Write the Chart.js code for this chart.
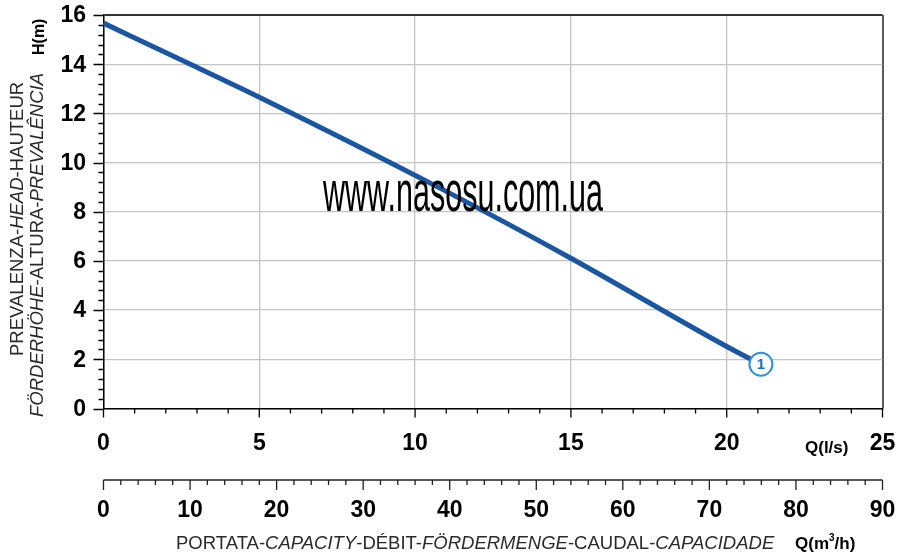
<!DOCTYPE html>
<html><head><meta charset="utf-8">
<script src="https://cdn.jsdelivr.net/npm/chart.js@4/dist/chart.umd.min.js"></script>
<style>html,body{margin:0;padding:0;background:#fff}#wrap{width:897px;height:556px}</style>
</head><body><div id="wrap"><canvas id="c" width="897" height="556"></canvas></div>
<script>
// ---- data ----
const flowLs = [0, 2.45, 5, 10.8, 15, 20, 21.05];          // Q (l/s)
const headM  = [15.67, 14.2, 12.66, 8.96, 6.11, 2.52, 1.82]; // H (m)
const yTicks  = [0, 2, 4, 6, 8, 10, 12, 14, 16];
const xTicks  = [0, 5, 10, 15, 20, 25];
const x2Ticks = [0, 10, 20, 30, 40, 50, 60, 70, 80, 90];   // Q (m3/h)
const curveLabel = '1';
const watermark = 'www.nasosu.com.ua';
const yTitle1 = [['PREVALENZA-', false], ['HEAD', true], ['-HAUTEUR', false]];
const yTitle2 = [['FÖRDERHÖHE', true], ['-ALTURA-', false], ['PREVALÊNCIA', true]];
const xTitle  = [['PORTATA-', false], ['CAPACITY', true], ['-DÉBIT-', false], ['FÖRDERMENGE', true], ['-CAUDAL-', false], ['CAPACIDADE', true]];

const FONT = '"Liberation Sans", Arial, sans-serif';

function drawMixed(ctx, segs, x, y, size, color) {
  let cx = x;
  ctx.fillStyle = color;
  ctx.textAlign = 'left';
  ctx.textBaseline = 'alphabetic';
  for (const [t, it] of segs) {
    ctx.font = (it ? 'italic ' : '') + size + 'px ' + FONT;
    ctx.fillText(t, cx, y);
    cx += ctx.measureText(t).width;
  }
}

const deco = {
  id: 'deco',
  afterDatasetsDraw(chart) {
    const ctx = chart.ctx;
    const xs = chart.scales.x, ys = chart.scales.y;
    const y0 = ys.getPixelForValue(0);
    const xL = xs.getPixelForValue(0);
    const xR = xs.getPixelForValue(25);
    ctx.save();

    // watermark
    ctx.font = '57px "Liberation Sans Narrow", ' + FONT;
    const w = ctx.measureText(watermark).width;
    ctx.save();
    ctx.translate(323, 211);
    ctx.scale(280 / w, 1);
    ctx.fillStyle = '#000';
    ctx.textAlign = 'left';
    ctx.textBaseline = 'alphabetic';
    ctx.fillText(watermark, 0, 0);
    ctx.restore();

    // curve label circle
    const n = flowLs.length - 1;
    const cxp = xs.getPixelForValue(flowLs[n]) + 1.5;
    const cyp = ys.getPixelForValue(headM[n]) + 0.5;
    ctx.beginPath();
    ctx.arc(cxp, cyp, 11.5, 0, Math.PI * 2);
    ctx.fillStyle = '#fff';
    ctx.fill();
    ctx.lineWidth = 2;
    ctx.strokeStyle = '#2a93dc';
    ctx.stroke();
    ctx.fillStyle = '#1f6fb8';
    ctx.font = 'bold 15px ' + FONT;
    ctx.textAlign = 'center';
    ctx.textBaseline = 'middle';
    ctx.fillText(curveLabel, cxp, cyp + 1);

    // ticks
    ctx.strokeStyle = '#000';
    ctx.lineWidth = 1.3;
    ctx.beginPath();
    for (let k = 0; k <= 40; k++) {
      const p = Math.round(ys.getPixelForValue(k * 0.4)) + 0.5;
      ctx.moveTo(xL - (k % 5 === 0 ? 10 : 5), p); ctx.lineTo(xL, p);
    }
    for (let q = 0; q <= 25; q++) {
      const p = xs.getPixelForValue(q);
      ctx.moveTo(p, y0); ctx.lineTo(p, y0 + (q % 5 === 0 ? 9 : 5));
    }
    ctx.stroke();

    // secondary axis (m3/h)
    const yA = 480;
    ctx.strokeStyle = '#222';
    ctx.beginPath();
    ctx.moveTo(xL, yA); ctx.lineTo(xR, yA);
    for (let m = 0; m <= 90; m += 2) {
      const p = xs.getPixelForValue(m / 3.6);
      ctx.moveTo(p, yA); ctx.lineTo(p, yA + (m % 10 === 0 ? 10 : 5));
    }
    ctx.stroke();

    // tick labels
    ctx.fillStyle = '#000';
    ctx.font = 'bold 23px ' + FONT;
    ctx.textBaseline = 'middle';
    ctx.textAlign = 'right';
    for (const v of yTicks) ctx.fillText(String(v), 86, ys.getPixelForValue(v) + 1);
    ctx.textAlign = 'center';
    for (const v of xTicks) ctx.fillText(String(v), xs.getPixelForValue(v), 444);
    for (const v of x2Ticks) ctx.fillText(String(v), xs.getPixelForValue(v / 3.6), 511);

    // unit labels
    ctx.font = 'bold 17px ' + FONT;
    ctx.textBaseline = 'alphabetic';
    ctx.textAlign = 'left';
    ctx.fillText('Q(l/s)', 805, 453);
    let ux = 795;
    ctx.fillText('Q(m', ux, 549); ux += ctx.measureText('Q(m').width;
    ctx.font = 'bold 10px ' + FONT;
    ctx.fillText('3', ux, 541); ux += ctx.measureText('3').width;
    ctx.font = 'bold 17px ' + FONT;
    ctx.fillText('/h)', ux, 549);

    // x title
    drawMixed(ctx, xTitle, 176, 549, 18.5, '#2a2a2a');

    // y titles (rotated)
    ctx.save();
    ctx.translate(23, 356);
    ctx.rotate(-Math.PI / 2);
    drawMixed(ctx, yTitle1, 0, 0, 18.5, '#2a2a2a');
    ctx.restore();
    ctx.save();
    ctx.translate(43, 417);
    ctx.rotate(-Math.PI / 2);
    drawMixed(ctx, yTitle2, 0, 0, 18.5, '#2a2a2a');
    ctx.restore();
    ctx.save();
    ctx.translate(44, 55);
    ctx.rotate(-Math.PI / 2);
    ctx.fillStyle = '#000';
    ctx.font = 'bold 16px ' + FONT;
    ctx.textAlign = 'left';
    ctx.fillText('H(m)', 0, 0);
    ctx.restore();

    ctx.restore();
  }
};

new Chart(document.getElementById('c').getContext('2d'), {
  type: 'line',
  data: {
    datasets: [{
      data: flowLs.map((q, i) => ({ x: q, y: headM[i] })),
      borderColor: '#1b56a3',
      borderWidth: 5,
      pointRadius: 0,
      cubicInterpolationMode: 'monotone',
      fill: false,
      clip: 8
    }]
  },
  options: {
    responsive: false,
    animation: false,
    devicePixelRatio: 1,
    layout: { padding: { left: 103.5, top: 15, right: 14.5, bottom: 147.5 } },
    plugins: { legend: { display: false }, tooltip: { enabled: false } },
    scales: {
      x: {
        type: 'linear', min: 0, max: 25,
        ticks: { display: false, stepSize: 5 },
        grid: {
          drawTicks: false,
          color: c => (c.tick && c.tick.value === 25) ? '#5a5a5a' : '#c4c4c4',
          lineWidth: c => (c.tick && c.tick.value === 25) ? 2 : 1.3
        },
        border: { color: '#000', width: 1.5 }
      },
      y: {
        type: 'linear', min: 0, max: 16,
        ticks: { display: false, stepSize: 2 },
        grid: {
          drawTicks: false,
          color: c => (c.tick && c.tick.value === 16) ? '#333' : '#c4c4c4',
          lineWidth: c => (c.tick && c.tick.value === 16) ? 2 : 1.3
        },
        border: { color: '#000', width: 1.5 }
      }
    }
  },
  plugins: [deco]
});
</script>
</body></html>
